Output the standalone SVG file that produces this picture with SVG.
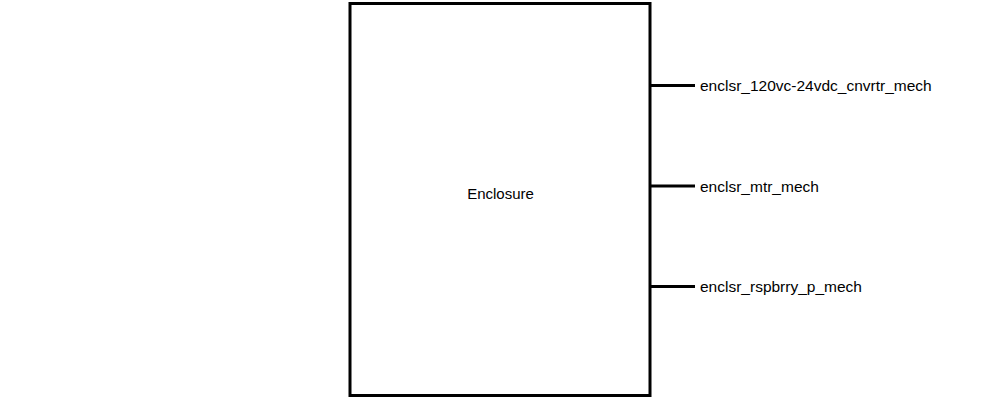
<svg xmlns="http://www.w3.org/2000/svg" width="1000" height="400" viewBox="0 0 1000 400">
<style>
.box{fill:#fff;stroke:#000;stroke-width:3}
.port{stroke:#000;stroke-width:3;fill:none}
.lbl{font-family:"Liberation Sans",Arial,sans-serif;font-size:15.5px;fill:#000}
.title{font-family:"Liberation Sans",Arial,sans-serif;font-size:15px;fill:#000;text-anchor:middle}
</style>
<rect width="1000" height="400" fill="#fff"/>
<g id="enclosure">
<rect class="box" x="350" y="3.5" width="300" height="392"/>
<text class="title" x="500.5" y="199">Enclosure</text>
</g>
<g id="connectors">
<line class="port" x1="650" y1="85.5" x2="695" y2="85.5"/>
<line class="port" x1="650" y1="186" x2="695" y2="186"/>
<line class="port" x1="650" y1="286.5" x2="695" y2="286.5"/>
</g>
<g id="port-converter">
<text class="lbl" x="700" y="91">enclsr_120vc-24vdc_cnvrtr_mech</text>
</g>
<g id="port-motor">
<text class="lbl" x="700" y="191.5">enclsr_mtr_mech</text>
</g>
<g id="port-raspberry">
<text class="lbl" x="700" y="292">enclsr_rspbrry_p_mech</text>
</g>
</svg>
